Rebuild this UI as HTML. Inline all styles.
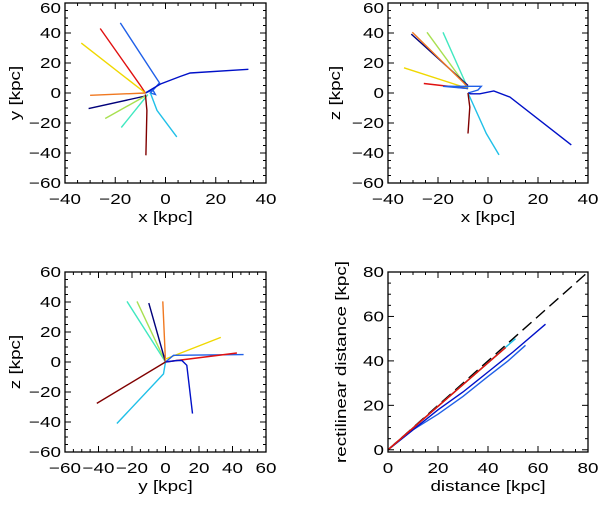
<!DOCTYPE html>
<html><head><meta charset="utf-8"><style>
body{margin:0;background:#fff;width:600px;height:500px;overflow:hidden}
svg{font-family:"Liberation Sans",sans-serif}
</style></head><body>
<svg id="c" width="600" height="500"></svg>
<script>
const colors={navy:"#00007a",dblue:"#0010c8",royal:"#2060e8",cyan:"#20c0e8",aqua:"#40e8c0",ygreen:"#a8e050",yellow:"#f0d800",orange:"#f07820",red:"#e01010",dred:"#800000",black:"#000"};
// panel 1: x-y
const p1Royal=[[-8,0],[-5,2],[-4,-1],[-6,0],[-2.4,6.7],[-4.8,12.9],[-18,46.7]];
const p1DBlue=[[-8,0],[-5,3],[-2,6],[5.8,11],[9.8,13.3],[33,15.8]];
const p1Red=[[-8,0],[-10,5],[-26,43]];
const p1Yellow=[[-8,0],[-33.5,33.3]];
const p1Orange=[[-8,0],[-30,-1.5]];
const p1Navy=[[-8,-2],[-30.6,-10.4]];
const p1YGreen=[[-8,-2],[-24,-17]];
const p1Aqua=[[-7,-1],[-17.6,-23]];
const p1Cyan=[[-6,0],[-3.4,-11.6],[4.5,-29.3]];
const p1DRed=[[-8,-1],[-7.4,-11.6],[-7.8,-41.5]];
// panel 2: x-z
const p2Navy=[[-8,5],[-30.7,39.3]];
const p2Orange=[[-8,4],[-30.3,40.5]];
const p2Red=[[-8,3],[-25.7,6.3]];
const p2Yellow=[[-8,3],[-33.6,16.8]];
const p2YGreen=[[-8,3],[-24.4,40.5]];
const p2Aqua=[[-8,3],[-18,40.5]];
const p2Royal=[[-8,3],[-18,4.5],[-2.7,4.5],[-4,2],[-8,0]];
const p2DBlue=[[-8,0],[-7,-0.5],[-3.3,-0.5],[2.3,1.3],[8.7,-2.7],[33.3,-34.6]];
const p2Cyan=[[-8,0],[-0.7,-27],[4.4,-41.3]];
const p2DRed=[[-8,0],[-7.3,-9.4],[-8,-27]];
// panel 3: y-z
const p3Aqua=[[0,0],[-23,40.4]];
const p3YGreen=[[0,0],[-17,40.4]];
const p3Navy=[[0,0],[-10,39.3]];
const p3Orange=[[0,0],[-1.6,40.4]];
const p3Yellow=[[0,2],[33,16.4]];
const p3Red=[[0,0],[6.8,1],[42.6,6]];
const p3Royal=[[0,0],[4.8,4.5],[46.6,4.9]];
const p3DBlue=[[0,0],[6.8,1],[9.8,1],[12.7,-2.2],[16.1,-34.4]];
const p3Cyan=[[0,0],[-1.2,-7.9],[-29,-41]];
const p3DRed=[[0,0],[-41,-27.6]];
// panel 4: distance vs rectilinear
const p4Diag=[[0,0],[80,80]];
const p4Bundle=[[0,0],[47,46]];
const p4Cyan=[[0,0],[51,50]];
const p4Royal=[[0,0],[10,9],[20,16],[30,24],[40,33],[48,40],[55,47]];
const p4DBlue=[[0,0],[10,9],[20,18],[30,26],[40,35],[50,44],[63,56.5]];

const NS="http://www.w3.org/2000/svg";
const svg=document.getElementById('c');
function el(tag,attrs,parent){const e=document.createElementNS(NS,tag);for(const k in attrs)e.setAttribute(k,attrs[k]);(parent||svg).appendChild(e);return e;}
function txt(g,x,y,anchor,str,rot){
  const tr=rot?`translate(${x} ${y}) rotate(-90) scale(1.3 1)`:`translate(${x} ${y}) scale(1.3 1)`;
  const t=el('text',{x:0,y:0,'text-anchor':anchor,'font-size':14.5,transform:tr},g);
  t.textContent=str;
  return t;
}

function panel(name,L,R,T,B,xr,yr,xt,yt,minor,xlab,ylab,yoff,series){
  const g=el('g',{});
  
  
  const sx=v=>L+(v-xr[0])/(xr[1]-xr[0])*(R-L);
  const sy=v=>B-(v-yr[0])/(yr[1]-yr[0])*(B-T);
  for(const s of series){
    const p=el('polyline',{points:s.d.map(q=>sx(q[0]).toFixed(1)+','+sy(q[1]).toFixed(1)).join(' '),fill:'none',stroke:colors[s.c],'stroke-width':1.4,'stroke-dasharray':s.dash||'none'},g);
    
    
  }
  const fr=el('rect',{x:L,y:T,width:R-L,height:B-T,fill:'none',stroke:'#000','stroke-width':1.3},g);
  
  
  for(let v=Math.ceil(xr[0]/minor)*minor;v<=xr[1]+1e-9;v+=minor){
    const big=xt.includes(v),len=big?6:3,x=sx(v);
    el('line',{x1:x,x2:x,y1:B,y2:B-len,stroke:'#000'},g);
    el('line',{x1:x,x2:x,y1:T,y2:T+len,stroke:'#000'},g);
  }
  for(let v=Math.ceil(yr[0]/minor)*minor;v<=yr[1]+1e-9;v+=minor){
    const big=yt.includes(v),len=big?6:3,y=sy(v);
    el('line',{x1:L,x2:L+len,y1:y,y2:y,stroke:'#000'},g);
    el('line',{x1:R,x2:R-len,y1:y,y2:y,stroke:'#000'},g);
  }
  for(const v of xt){
    const t=txt(g,sx(v),B+21,'middle',(v<0?'\u2212'+(-v):String(v)));
    
    
  }
  for(const v of yt){
    const t=txt(g,L-4,Math.max(sy(v)+5,13),'end',(v<0?'\u2212'+(-v):String(v)));
    
    
  }
  const xl=txt(g,(L+R)/2,B+39,'middle',xlab);
  
  
  const yl=txt(g,L-yoff,(T+B)/2,'middle',ylab,true);
  
  
}
panel('panel-xy',65,266,3,183,[-40,40],[-60,60],[-40,-20,0,20,40],[-60,-40,-20,0,20,40,60],5,'x [kpc]','y [kpc]',45,[
 {d:p1Royal,c:'royal',n:'track-royal'},{d:p1DBlue,c:'dblue',n:'track-darkblue'},{d:p1Red,c:'red',n:'track-red'},
 {d:p1Yellow,c:'yellow',n:'track-yellow'},{d:p1Orange,c:'orange',n:'track-orange'},{d:p1Navy,c:'navy',n:'track-navy'},
 {d:p1YGreen,c:'ygreen',n:'track-yellowgreen'},{d:p1Aqua,c:'aqua',n:'track-aqua'},{d:p1Cyan,c:'cyan',n:'track-cyan'},{d:p1DRed,c:'dred',n:'track-darkred'}]);
panel('panel-xz',388,588,3,183,[-40,40],[-60,60],[-40,-20,0,20,40],[-60,-40,-20,0,20,40,60],5,'x [kpc]','z [kpc]',48,[
 {d:p2YGreen,c:'ygreen',n:'track-yellowgreen'},{d:p2Aqua,c:'aqua',n:'track-aqua'},{d:p2Yellow,c:'yellow',n:'track-yellow'},
 {d:p2Navy,c:'navy',n:'track-navy'},{d:p2Orange,c:'orange',n:'track-orange'},{d:p2Red,c:'red',n:'track-red'},
 {d:p2Royal,c:'royal',n:'track-royal'},{d:p2DBlue,c:'dblue',n:'track-darkblue'},{d:p2Cyan,c:'cyan',n:'track-cyan'},{d:p2DRed,c:'dred',n:'track-darkred'}]);
panel('panel-yz',65,266,272,452,[-60,60],[-60,60],[-60,-40,-20,0,20,40,60],[-60,-40,-20,0,20,40,60],5,'y [kpc]','z [kpc]',45,[
 {d:p3Aqua,c:'aqua',n:'track-aqua'},{d:p3YGreen,c:'ygreen',n:'track-yellowgreen'},{d:p3Navy,c:'navy',n:'track-navy'},
 {d:p3Orange,c:'orange',n:'track-orange'},{d:p3Yellow,c:'yellow',n:'track-yellow'},{d:p3Royal,c:'royal',n:'track-royal'},
 {d:p3Red,c:'red',n:'track-red'},{d:p3DBlue,c:'dblue',n:'track-darkblue'},{d:p3Cyan,c:'cyan',n:'track-cyan'},{d:p3DRed,c:'dred',n:'track-darkred'}]);
panel('panel-distance',388,588,272,452,[0,80],[-1,80],[0,20,40,60,80],[0,20,40,60,80],5,'distance [kpc]','rectilinear distance [kpc]',42,[
 {d:p4Diag,c:'black',n:'one-to-one-line',dash:'12,6'},{d:p4Cyan,c:'cyan',n:'track-cyan'},
 {d:p4Royal,c:'royal',n:'track-royal'},{d:p4DBlue,c:'dblue',n:'track-darkblue'},
 {d:p4Bundle,c:'black',n:'track-bundle-black'},{d:p4Bundle,c:'orange',n:'track-bundle-orange'},{d:p4Bundle,c:'red',n:'track-bundle-red'}]);
</script>
</body></html>
